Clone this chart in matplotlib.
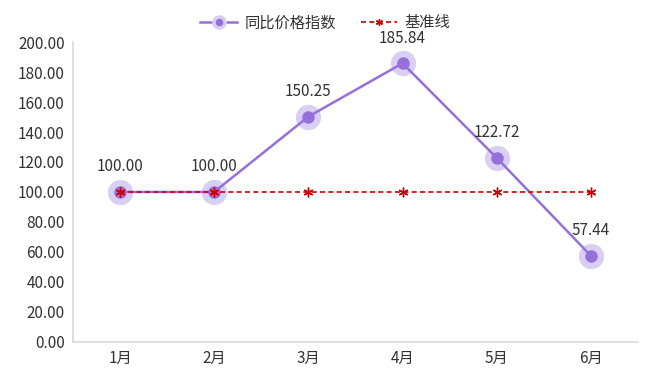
import matplotlib
matplotlib.use("Agg")
import matplotlib.pyplot as plt
from matplotlib.lines import Line2D

plt.rcParams['font.family'] = ['Noto Sans CJK SC', 'DejaVu Sans']

months = ["1月", "2月", "3月", "4月", "5月", "6月"]
index_values = [100.00, 100.00, 150.25, 185.84, 122.72, 57.44]
baseline = [100, 100, 100, 100, 100, 100]

PURPLE = "#9370DB"
HALO = "#D9CFF5"
RED = "#CC0000"

fig = plt.figure(figsize=(6.51, 3.79), dpi=100)
ax = fig.add_axes([0.112, 0.098, 0.868, 0.791])

x = list(range(len(months)))

# halo behind the points
ax.scatter(x, index_values, s=330, color=HALO, zorder=2, linewidths=0)
ax.plot(x, index_values, color=PURPLE, lw=1.8, marker="o", ms=8,
        markerfacecolor=PURPLE, markeredgecolor=PURPLE, zorder=3)
ax.plot(x, baseline, color=RED, lw=1.2, ls=(0, (3, 2)), marker=(6, 2, 0),
        ms=7, markeredgecolor=RED, markeredgewidth=1.0, zorder=4)

for xi, v in zip(x, index_values):
    ax.annotate(f"{v:.2f}", (xi, v), xytext=(0, 12), textcoords="offset points",
                ha="center", va="bottom", fontsize=11, color="#333333")

ax.set_xlim(-0.5, 5.5)
ax.set_ylim(0, 200)
ax.set_yticks(range(0, 201, 20))
ax.set_yticklabels([f"{t:.2f}" for t in range(0, 201, 20)])
ax.set_xticks(x)
ax.set_xticklabels(months)
ax.tick_params(length=0, labelsize=11, colors="#333333", pad=6)

for side in ["top", "right"]:
    ax.spines[side].set_visible(False)
for side in ["left", "bottom"]:
    ax.spines[side].set_color("#D9D9D9")
    ax.spines[side].set_linewidth(1.2)

handles = [
    Line2D([], [], color=PURPLE, lw=1.8, marker="o", ms=8,
           markerfacecolor=PURPLE, markeredgecolor=HALO, markeredgewidth=2.5),
    Line2D([], [], color=RED, lw=1.2, ls=(0, (3, 2)), marker=(6, 2, 0),
           ms=5, markeredgecolor=RED),
]
fig.legend(handles, ["同比价格指数", "基准线"], loc="center",
           bbox_to_anchor=(0.5, 0.94), ncol=2, frameon=False, fontsize=11,
           handlelength=2.4, handletextpad=0.5, columnspacing=1.6,
           labelcolor="#333333")

fig.savefig("out.png", dpi=100)
